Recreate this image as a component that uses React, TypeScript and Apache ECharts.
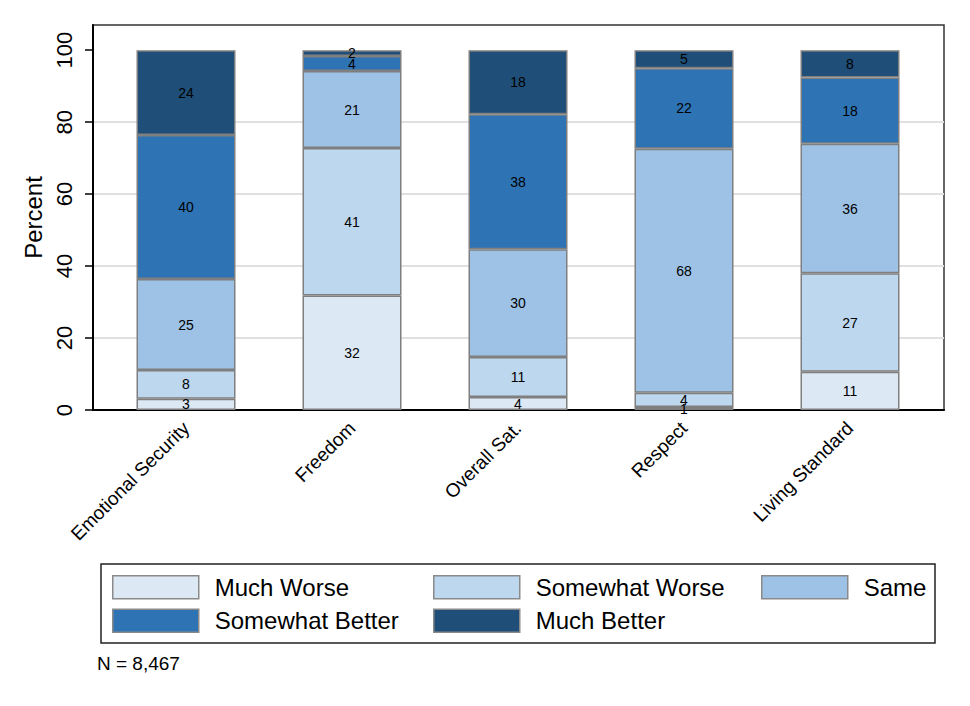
import React, { useEffect, useRef } from "react";
import * as echarts from "echarts";

const categories = ["Emotional Security", "Freedom", "Overall Sat.", "Respect", "Living Standard"];
const seriesNames = ["Much Worse", "Somewhat Worse", "Same", "Somewhat Better", "Much Better"];
const muchWorse = [3.1, 31.8, 3.6, 0.8, 10.6];
const somewhatWorse = [8.0, 41.0, 11.1, 4.0, 27.4];
const same = [25.3, 21.4, 30.0, 67.8, 36.0];
const somewhatBetter = [40.0, 4.2, 37.5, 22.4, 18.4];
const muchBetter = [23.6, 1.6, 17.8, 5.0, 7.6];
const yTicks = [0, 20, 40, 60, 80, 100];
const colors = ["#dce9f5", "#bdd7ee", "#9dc2e6", "#2e74b5", "#1f4e78"];
const noteText = "N = 8,467";

const FONT = "'Liberation Sans', Arial, sans-serif";

export default function App() {
  const ref = useRef<HTMLDivElement>(null);
  useEffect(() => {
    if (!ref.current) return;
    const chart = echarts.init(ref.current, null, { renderer: "svg" });
    const values = [muchWorse, somewhatWorse, same, somewhatBetter, muchBetter];
    const series = seriesNames.map((name, i) => ({
      name,
      type: "bar",
      stack: "total",
      xAxisIndex: 1,
      yAxisIndex: 1,
      barWidth: 99,
      data: values[i],
      itemStyle: { color: colors[i], borderColor: "#7f7f7f", borderWidth: 1.5 },
      label: {
        show: true,
        position: "inside",
        color: "#000",
        fontFamily: FONT,
        fontSize: 14,
        formatter: (p: any) => String(Math.round(p.value)),
      },
    }));
    const legendBase = {
      orient: "vertical",
      itemWidth: 86,
      itemHeight: 23,
      itemGap: 9,
      icon: "rect",
      textStyle: { fontFamily: FONT, fontSize: 24, lineHeight: 23, color: "#000", padding: [0, 0, 0, 11] },
      itemStyle: { borderColor: "#8a8a8a", borderWidth: 1.5 },
      selectedMode: false,
    };
    chart.setOption({
      animation: false,
      color: colors,
      textStyle: { fontFamily: FONT },
      grid: [
        { left: 93, right: 26, top: 25, bottom: 296, show: true, borderColor: "#333", borderWidth: 1.5, backgroundColor: "transparent" },
        { left: 103, right: 37, top: 25, bottom: 296 },
      ],
      xAxis: [
        {
          gridIndex: 0,
          type: "value",
          min: 0,
          max: 1,
          axisLine: { show: true, lineStyle: { color: "#000", width: 2 } },
          axisTick: { show: false },
          axisLabel: { show: false },
          splitLine: { show: false },
        },
        {
          gridIndex: 1,
          type: "category",
          data: categories,
          axisLine: { show: false },
          axisTick: { show: false },
          axisLabel: {
            rotate: 45,
            margin: 15,
            color: "#000",
            fontFamily: FONT,
            fontSize: 19,
            interval: 0,
          },
        },
      ],
      yAxis: [
        {
          gridIndex: 0,
          type: "value",
          min: 0,
          max: 107,
          name: "Percent",
          nameLocation: "middle",
          nameGap: 35,
          nameTextStyle: { fontFamily: FONT, fontSize: 24, color: "#000" },
          axisLine: { show: true, lineStyle: { color: "#000", width: 2 } },
          axisTick: { show: true, length: 8, customValues: yTicks, lineStyle: { color: "#000", width: 1.5 } },
          axisLabel: {
            customValues: yTicks,
            rotate: 90,
            margin: 18,
            color: "#000",
            fontFamily: FONT,
            fontSize: 22,
          },
          splitLine: { show: true, showMaxLine: false, lineStyle: { color: "#e0e0e0", width: 2 } },
        },
        {
          gridIndex: 1,
          type: "value",
          min: 0,
          max: 107,
          show: false,
          splitLine: { show: false },
        },
      ],
      legend: [
        { ...legendBase, left: 107, top: 570, data: [seriesNames[0], seriesNames[3]] },
        { ...legendBase, left: 428, top: 570, data: [seriesNames[1], seriesNames[4]] },
        { ...legendBase, left: 756, top: 570, data: [seriesNames[2]] },
      ],
      graphic: [
        {
          type: "rect",
          x: 101,
          y: 564,
          shape: { x: 0, y: 0, width: 834, height: 79 },
          style: { fill: "none", stroke: "#222", lineWidth: 1.5 },
        },
        {
          type: "text",
          x: 97,
          y: 654,
          style: { text: noteText, fill: "#000", font: `19px ${FONT}` },
        },
      ],
      series,
    });
    return () => chart.dispose();
  }, []);
  return (
    <div
      ref={ref}
      style={{ position: "fixed", left: 0, top: 0, width: 970, height: 706, background: "#fff" }}
    />
  );
}
